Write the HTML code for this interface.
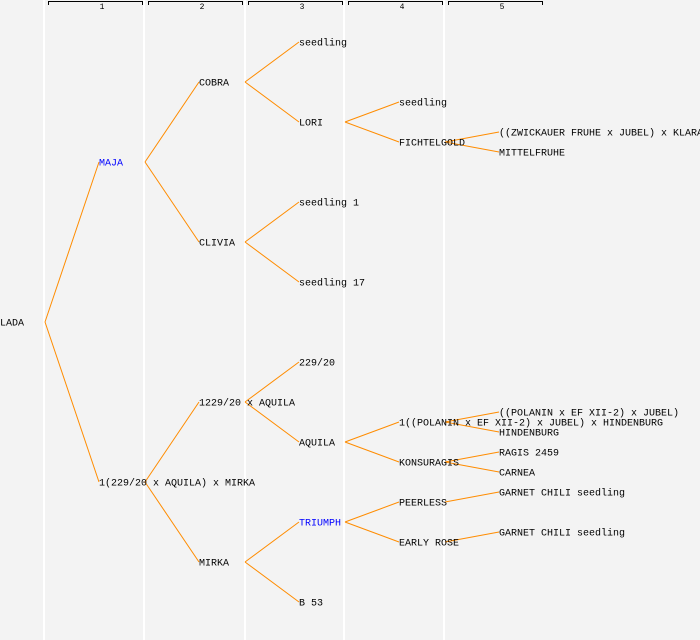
<!DOCTYPE html>
<html><head><style>
html,body{margin:0;padding:0;background:#f3f3f3;}
svg{display:block;}
text{font-family:"Liberation Mono",monospace;font-size:10px;fill:#000;}
</style></head><body>
<svg width="700" height="640" viewBox="0 0 700 640">
<rect width="700" height="640" fill="#f3f3f3"/>
<g stroke="#fff" stroke-width="2">
<line x1="44" y1="0" x2="44" y2="640"/><line x1="144" y1="0" x2="144" y2="640"/><line x1="245" y1="0" x2="245" y2="640"/><line x1="344" y1="0" x2="344" y2="640"/><line x1="444" y1="0" x2="444" y2="640"/>
</g>
<g stroke="#000" stroke-width="1" fill="none">
<path d="M48.5 5V1.5H142.5V5"/><path d="M148.5 5V1.5H242.5V5"/><path d="M248.5 5V1.5H342.5V5"/><path d="M348.5 5V1.5H442.5V5"/><path d="M448.5 5V1.5H542.5V5"/>
</g>
<g text-anchor="middle">
<text x="102" y="9" style="font-size:8px">1</text><text x="202" y="9" style="font-size:8px">2</text><text x="302" y="9" style="font-size:8px">3</text><text x="402" y="9" style="font-size:8px">4</text><text x="502" y="9" style="font-size:8px">5</text>
</g>
<g stroke="#ff8c00" stroke-width="1" fill="none">
<path d="M45 322L99 162M45 322L99 482"/>
<path d="M145 162L199 82M145 162L199 242M145 482L199 402M145 482L199 562"/>
<path d="M245 82L299 42M245 82L299 122M245 242L299 202M245 242L299 282M245 402L299 362M245 402L299 442M245 562L299 522M245 562L299 602"/>
<path d="M345 122L399 102M345 122L399 142M345 442L399 422M345 442L399 462M345 522L399 502M345 522L399 542"/>
<path d="M445 142L499 132M445 142L499 152M445 422L499 412M445 422L499 432M445 462L499 452M445 462L499 472M445 502L499 492M445 542L499 532"/>
</g>
<g dominant-baseline="central" transform="translate(0,2)">
<text x="0" y="322">LADA</text>
<text x="99" y="162" style="fill:#0000ff">MAJA</text>
<text x="99" y="482">1(229/20 x AQUILA) x MIRKA</text>
<text x="199" y="82">COBRA</text>
<text x="199" y="242">CLIVIA</text>
<text x="199" y="402">1229/20 x AQUILA</text>
<text x="199" y="562">MIRKA</text>
<text x="299" y="42">seedling</text>
<text x="299" y="122">LORI</text>
<text x="299" y="202">seedling 1</text>
<text x="299" y="282">seedling 17</text>
<text x="299" y="362">229/20</text>
<text x="299" y="442">AQUILA</text>
<text x="299" y="522" style="fill:#0000ff">TRIUMPH</text>
<text x="299" y="602">B 53</text>
<text x="399" y="102">seedling</text>
<text x="399" y="142">FICHTELGOLD</text>
<text x="399" y="422">1((POLANIN x EF XII-2) x JUBEL) x HINDENBURG</text>
<text x="399" y="462">KONSURAGIS</text>
<text x="399" y="502">PEERLESS</text>
<text x="399" y="542">EARLY ROSE</text>
<text x="499" y="132">((ZWICKAUER FRUHE x JUBEL) x KLARA</text>
<text x="499" y="152">MITTELFRUHE</text>
<text x="499" y="412">((POLANIN x EF XII-2) x JUBEL)</text>
<text x="499" y="432">HINDENBURG</text>
<text x="499" y="452">RAGIS 2459</text>
<text x="499" y="472">CARNEA</text>
<text x="499" y="492">GARNET CHILI seedling</text>
<text x="499" y="532">GARNET CHILI seedling</text>
</g>
</svg>
</body></html>
